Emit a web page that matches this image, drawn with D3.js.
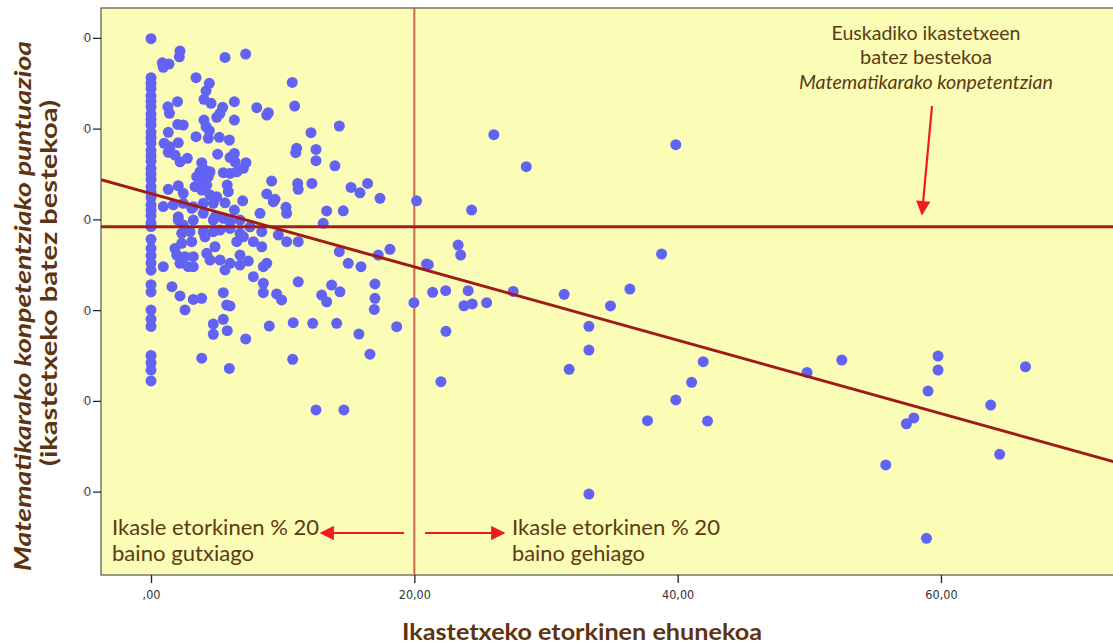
<!DOCTYPE html>
<html><head><meta charset="utf-8">
<script src="https://cdn.jsdelivr.net/npm/d3@7"></script>
<style>body{margin:0;background:#fff;}svg{display:block;}</style>
</head><body>
<svg id="c" width="1113" height="644"></svg>
<script>
// ---------- data ----------
const xTickValues = [0, 20, 40, 60];
const xTickLabels = [",00", "20,00", "40,00", "60,00"];
const yTickValues = [350, 300, 250, 200, 150, 100];
const yTickLabels = ["350,00", "300,00", "250,00", "200,00", "150,00", "100,00"];

// schools with 0 % immigrant pupils (score only)
const zeroPctScores = [349.5, 328, 325, 322, 318, 315, 312, 308, 305, 302, 298, 295, 292, 288, 285, 282,
  278, 275, 272, 268, 265, 262, 258, 255, 252, 248, 246, 239, 234, 230, 226, 222, 214, 210, 200, 195,
  191, 175, 171, 167, 161];

// [immigrant %, score]
const schools = [
  [2.20,342.7],[2.15,339.5],[0.86,336.2],[1.37,335.5],[0.93,333.7],[5.62,339.2],[7.19,341.0],
  [3.42,328.0],[4.43,324.9],[4.18,320.8],[4.02,316.1],[4.56,313.9],[2.01,314.8],[1.28,312.0],[1.40,308.4],
  [6.33,314.8],[5.44,311.7],[5.24,308.4],[4.99,306.2],[6.33,304.7],[10.73,325.4],[10.91,312.4],[8.03,311.5],
  [8.79,307.4],[8.91,308.7],[2.03,302.3],[2.45,301.9],[1.31,297.9],[4.02,304.7],[4.18,301.0],[4.43,298.8],
  [3.42,295.5],[4.35,294.6],[5.19,295.2],[5.95,293.7],[12.15,297.7],[14.30,301.4],[1.00,291.9],[1.44,290.0],
  [2.07,292.2],[1.31,286.9],[1.82,285.4],[2.20,281.7],[2.76,283.6],[11.06,289.1],[10.99,286.7],[12.53,288.5],
  [12.53,282.3],[13.97,279.5],[5.06,285.9],[6.00,284.1],[6.33,286.3],[6.38,281.7],[7.21,281.2],[3.85,281.2],
  [3.72,276.2],[4.10,277.1],[4.48,276.2],[3.47,273.5],[3.85,271.6],[4.35,273.5],[5.49,275.7],[6.00,275.3],
  [6.51,276.2],[7.01,278.1],[5.79,268.9],[5.87,265.2],[3.34,268.0],[4.23,268.9],[3.85,266.1],[9.16,271.1],
  [11.14,269.8],[11.18,266.5],[12.22,269.8],[15.19,267.6],[15.87,264.6],[16.45,269.8],[17.39,261.6],[20.17,260.2],
  [8.79,264.0],[9.42,261.0],[10.25,256.6],[10.30,253.3],[8.28,253.3],[6.96,260.2],[5.62,259.1],[6.33,255.1],
  [13.34,254.6],[14.60,254.7],[1.31,266.5],[2.07,268.5],[0.93,257.0],[1.69,258.0],[2.45,264.3],[3.09,256.1],
  [2.07,251.4],[3.97,253.3],[4.86,251.4],[4.48,263.4],[4.99,262.4],[2.45,258.8],[3.21,256.9],[3.97,258.8],
  [4.73,258.8],[9.29,259.7],
  [2.07,249.6],[2.45,246.9],[3.21,249.6],[4.73,249.6],[5.49,250.6],[6.00,248.7],[6.76,249.6],[7.52,245.9],
  [2.33,242.3],[2.96,243.2],[3.97,243.2],[4.73,243.2],[5.24,244.1],[6.00,245.0],[6.76,242.3],[8.41,243.2],
  [9.67,241.4],[10.30,237.7],[11.18,237.7],[13.08,247.8],[7.01,240.4],
  [1.82,234.0],[2.33,236.8],[3.09,237.7],[4.10,240.4],[4.86,234.9],[6.51,237.7],[7.77,237.7],[8.41,234.9],
  [1.95,230.3],[2.58,229.4],[3.21,229.4],[4.23,231.3],[4.48,227.6],[5.24,227.6],[6.00,225.8],[6.76,230.3],
  [7.39,227.0],[6.76,224.8],[2.20,225.8],[2.83,223.9],[3.21,223.9],[0.93,223.9],[5.62,222.1],[8.53,223.9],
  [8.79,225.8],[14.30,232.2],[14.98,225.8],[15.95,223.9],[17.26,230.3],[18.15,233.5],[20.93,225.4],
  [7.77,218.4],[8.53,214.8],[11.18,215.6],[1.59,212.9],[2.20,207.8],[3.21,205.9],[3.85,206.5],[5.49,209.6],
  [5.75,202.8],[6.00,202.3],[8.53,209.6],[9.54,208.9],[9.92,205.6],[2.58,200.1],[12.96,208.3],[13.72,213.8],
  [14.35,210.1],[13.34,204.6],[17.01,214.4],[17.01,206.5],[16.96,200.4],[19.97,204.1],
  [4.73,192.3],[5.49,194.9],[4.73,186.7],[5.79,188.7],[7.19,184.1],[8.98,191.2],[10.80,193.1],[12.28,192.7],
  [14.10,192.7],[15.79,186.8],[18.66,190.9],[16.63,175.7],[3.85,173.5],[5.95,167.9],[10.76,172.9],
  [12.53,145.0],[14.65,145.0],
  [26.04,296.6],[28.50,279.0],[39.86,291.1],[24.35,255.1],[23.33,235.8],[23.52,230.3],[21.06,225.0],[38.78,230.9],
  [21.39,209.8],[22.38,210.7],[24.09,210.7],[27.51,210.3],[31.38,208.7],[36.37,211.6],[23.77,202.4],[24.40,203.4],
  [25.49,204.1],[34.90,202.3],[22.40,188.3],[33.26,191.1],
  [33.26,178.0],[31.76,167.4],[22.02,160.6],[41.94,171.6],[41.06,160.2],[39.86,150.5],[37.71,139.1],[42.27,138.9],
  [33.26,98.7],
  [49.83,165.7],[52.47,172.5],[59.78,174.7],[59.78,167.0],[59.02,155.4],[66.42,168.8],[63.78,147.7],[57.94,140.6],
  [57.38,137.4],[55.81,114.7],[64.46,120.6],[58.90,74.3]
];

const euskadiMean = 245.9;     // horizontal reference line
const thresholdPct = 20;        // vertical reference line
const regIntercept = 264.2;     // fitted line
const regSlope = -2.02;

const xTitle = "Ikastetxeko etorkinen ehunekoa";
const yTitle1 = "Matematikarako konpetentziako  puntuazioa";
const yTitle2 = "(ikastetxeko batez bestekoa)";
const noteTop = ["Euskadiko ikastetxeen", "batez bestekoa", "Matematikarako konpetentzian"];
const noteLeft = ["Ikasle etorkinen % 20", "baino gutxiago"];
const noteRight = ["Ikasle etorkinen % 20", "baino gehiago"];

// ---------- drawing ----------
const svg = d3.select("#c");
const plot = {left: 101, top: 8, right: 1120, bottom: 575};
const x = d3.scaleLinear().domain([-3.8, 73.6]).range([plot.left, plot.right]);
const y = d3.scaleLinear().domain([54.1, 366.4]).range([plot.bottom, plot.top]);

const FONT = "Lato, 'Open Sans', sans-serif";
const BROWN = "#5e3410";
const NOTE = "#5a3b12";
const RED = "#ee1c1c";

const defs = svg.append("defs");
defs.append("clipPath").attr("id", "pc")
  .append("rect").attr("x", plot.left).attr("y", plot.top)
  .attr("width", plot.right - plot.left).attr("height", plot.bottom - plot.top);
defs.append("clipPath").attr("id", "yl")
  .append("rect").attr("x", 83.5).attr("y", 0).attr("width", 20).attr("height", 644);

svg.append("rect").attr("x", plot.left).attr("y", plot.top)
  .attr("width", plot.right - plot.left).attr("height", plot.bottom - plot.top)
  .attr("fill", "#fbfcb5").attr("stroke", "#555").attr("stroke-width", 1.2);

const g = svg.append("g").attr("clip-path", "url(#pc)");

// vertical threshold line
g.append("line").attr("x1", x(thresholdPct)).attr("x2", x(thresholdPct))
  .attr("y1", plot.top).attr("y2", plot.bottom)
  .attr("stroke", "#c46a52").attr("stroke-width", 2);

// points
const allPts = zeroPctScores.map(v => [0, v]).concat(schools);
g.selectAll("circle.p").data(allPts).join("circle").attr("class", "p")
  .attr("cx", d => x(d[0])).attr("cy", d => y(d[1])).attr("r", 5.5)
  .attr("fill", "#6262f4");

// mean line
g.append("line").attr("x1", plot.left).attr("x2", plot.right)
  .attr("y1", y(euskadiMean)).attr("y2", y(euskadiMean))
  .attr("stroke", "#a31f1f").attr("stroke-width", 3);

// regression line
const xd = x.domain();
g.append("line")
  .attr("x1", x(xd[0])).attr("y1", y(regIntercept + regSlope * xd[0]))
  .attr("x2", x(xd[1])).attr("y2", y(regIntercept + regSlope * xd[1]))
  .attr("stroke", "#a01a1a").attr("stroke-width", 3);

// axes
const xAxis = d3.axisBottom(x).tickValues(xTickValues)
  .tickFormat((d, i) => xTickLabels[i]).tickSize(8).tickSizeOuter(0);
const xa = svg.append("g").attr("transform", `translate(0,${plot.bottom})`).call(xAxis);
xa.select(".domain").remove();
xa.selectAll("line").attr("stroke", "#222").attr("stroke-width", 1.3);
xa.selectAll("text").attr("font-family", "'Liberation Sans Narrow','DejaVu Sans Condensed',sans-serif")
  .attr("font-size", 12.5).attr("fill", "#333").attr("y", 15).attr("dy", "0.71em");

const yAxis = d3.axisLeft(y).tickValues(yTickValues)
  .tickFormat((d, i) => yTickLabels[i]).tickSize(8).tickSizeOuter(0);
const yHolder = svg.append("g").attr("clip-path", "url(#yl)");
const ya = yHolder.append("g").attr("transform", `translate(${plot.left},0)`).call(yAxis);
ya.select(".domain").remove();
ya.selectAll("line").attr("stroke", "#222").attr("stroke-width", 1.3);
ya.selectAll("text").attr("font-family", "'Liberation Sans Narrow',sans-serif")
  .attr("font-size", 12.5).attr("fill", "#333").attr("x", -10);

// axis titles
svg.append("text").attr("x", 582).attr("y", 640).attr("text-anchor", "middle")
  .attr("font-family", FONT).attr("font-weight", "bold").attr("font-size", 22)
  .attr("textLength", 360).attr("lengthAdjust", "spacingAndGlyphs")
  .attr("fill", BROWN).text(xTitle);

svg.append("text").attr("transform", "translate(31,306) rotate(-90)").attr("text-anchor", "middle")
  .attr("font-family", FONT).attr("font-weight", "bold").attr("font-style", "italic")
  .attr("font-size", 23).attr("textLength", 530).attr("lengthAdjust", "spacingAndGlyphs")
  .attr("fill", BROWN).text(yTitle1);
svg.append("text").attr("transform", "translate(57,283) rotate(-90)").attr("text-anchor", "middle")
  .attr("font-family", FONT).attr("font-weight", "bold")
  .attr("font-size", 23).attr("textLength", 366).attr("lengthAdjust", "spacingAndGlyphs")
  .attr("fill", BROWN).text(yTitle2);

// top-right note
const topLens = [189, 132, 254];
noteTop.forEach((t, i) => {
  svg.append("text").attr("text-anchor", "middle").attr("font-family", FONT)
    .attr("font-size", 19).attr("fill", NOTE).attr("x", 926).attr("y", 39.5 + i * 24.5)
    .attr("font-style", i === 2 ? "italic" : "normal")
    .attr("textLength", topLens[i]).attr("lengthAdjust", "spacingAndGlyphs").text(t);
});

// bottom notes
function note(lines, lens, x0) {
  lines.forEach((s, i) => svg.append("text").attr("font-family", FONT).attr("font-size", 20.5)
    .attr("fill", NOTE).attr("x", x0).attr("y", 534.5 + i * 26)
    .attr("textLength", lens[i]).attr("lengthAdjust", "spacingAndGlyphs").text(s));
}
note(noteLeft, [207, 142], 112);
note(noteRight, [208, 133], 512);

// red arrows
defs.append("marker").attr("id", "ah").attr("viewBox", "0 0 10 10").attr("refX", 9).attr("refY", 5)
  .attr("markerWidth", 7).attr("markerHeight", 6.5).attr("orient", "auto")
  .append("path").attr("d", "M0,0 L10,5 L0,10 z").attr("fill", RED);
function arrow(x1, y1, x2, y2) {
  svg.append("line").attr("x1", x1).attr("y1", y1).attr("x2", x2).attr("y2", y2)
    .attr("stroke", RED).attr("stroke-width", 2.2).attr("marker-end", "url(#ah)");
}
arrow(932, 106, 922, 214);
arrow(404, 533, 321, 533);
arrow(425, 533, 504, 533);
</script>
</body></html>
